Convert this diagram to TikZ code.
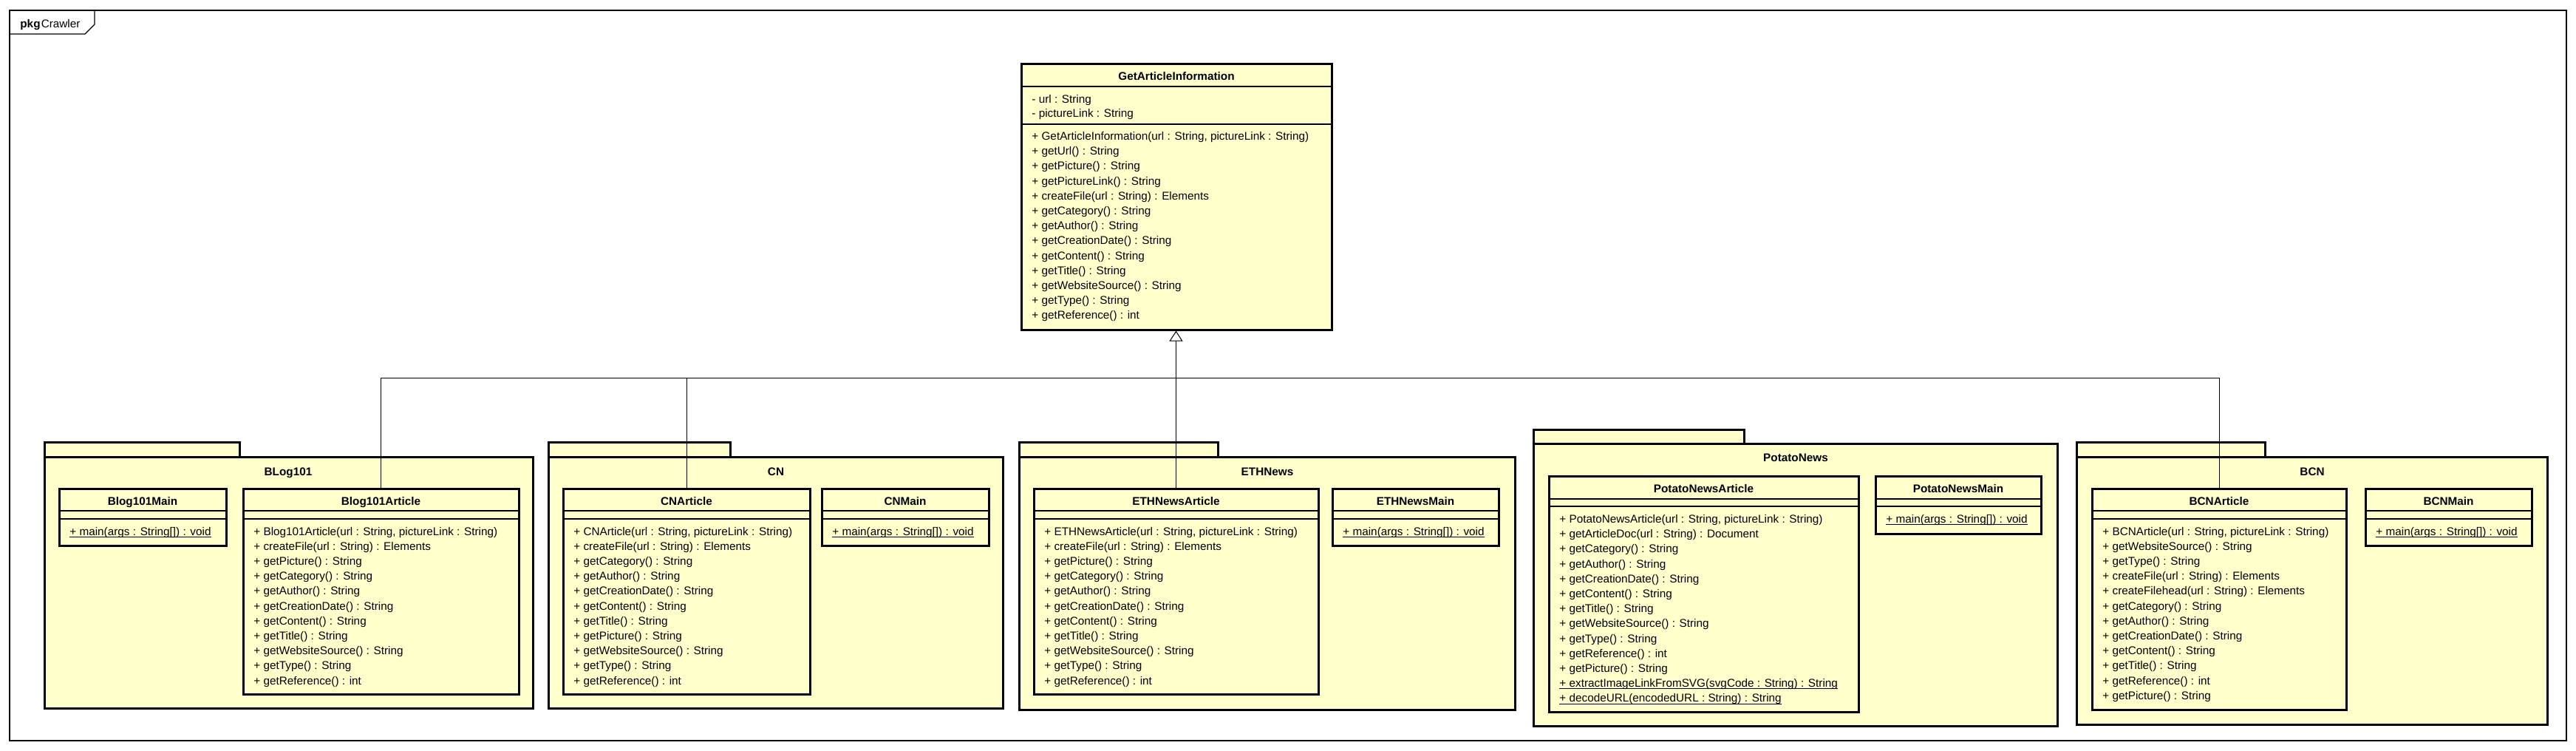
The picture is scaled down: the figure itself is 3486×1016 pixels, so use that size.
\documentclass[tikz,border=0pt]{standalone}
\usepackage{fontspec}
\setmainfont{Liberation Sans}
\usepackage{xcolor}
\usepackage{tikz}
\usetikzlibrary{positioning,arrows.meta,fit}
\definecolor{umlfill}{RGB}{255,255,204}
\newcommand\umlfont{\fontsize{7.65}{9}\selectfont}
\newcommand\statline[1]{{\setbox0\hbox{#1}\rlap{\rule[-1.3pt]{\wd0}{0.5pt}}\box0}}
\tikzset{
  pkgframe/.style={draw=black, line width=0.6pt},
  pkgtab/.style={draw=black, fill=umlfill, line width=1.5pt, inner sep=0pt},
  pkgbody/.style={draw=black, fill=umlfill, line width=1.5pt, inner sep=0pt},
  pkgname/.style={font=\umlfont\bfseries, anchor=base, inner sep=0pt},
  cls/.style={draw=black, fill=umlfill, line width=1.5pt, inner sep=0pt},
  ctitle/.style={font=\umlfont\bfseries, anchor=base, inner sep=0pt},
  mline/.style={anchor=base west, inner sep=0pt},
  divider/.style={line width=0.6pt},
  conn/.style={line width=0.5pt, draw=black},
  genline/.style={conn, -{Triangle[open, length=7pt, width=9pt]}},
}

\begin{document}
\begin{tikzpicture}[x=0.5pt,y=-0.5pt,font=\umlfont]
  \useasboundingbox (0,0) rectangle (3486,1016);
  \draw[pkgframe] (13,14) rectangle (3473,1002);
  \draw[pkgframe] (13,46) -- (115,46) -- (128,33) -- (128,14);
  \node[mline] (crawler) at (27,37.5) {\textbf{pkg}\kern0.6pt Crawler};

  \node[pkgtab, fit={(60,598) (324,618)}] (blogtab) {};
  \node[pkgbody, fit={(60,618) (721,958)}] (blog) {};
  \node[pkgname] (blog-n) at (390,643) {BLog101};
  \node[pkgtab, fit={(742,598) (988,618)}] (cntab) {};
  \node[pkgbody, fit={(742,618) (1357,958)}] (cn) {};
  \node[pkgname] (cn-n) at (1050,643) {CN};
  \node[pkgtab, fit={(1379,598) (1648,618)}] (ethtab) {};
  \node[pkgbody, fit={(1379,618) (2050,960)}] (eth) {};
  \node[pkgname] (eth-n) at (1715,643) {ETHNews};
  \node[pkgtab, fit={(2075,581) (2360,600)}] (pottab) {};
  \node[pkgbody, fit={(2075,600) (2784,982)}] (potato) {};
  \node[pkgname] (potato-n) at (2430,624) {PotatoNews};
  \node[pkgtab, fit={(2810,598) (3065,618)}] (bcntab) {};
  \node[pkgbody, fit={(2810,618) (3447,980)}] (bcn) {};
  \node[pkgname] (bcn-n) at (3129,643) {BCN};

  \node[cls, fit={(1382,87) (1802,446)}] (gai) {};
  \node[cls, fit={(80,661) (306,738)}] (blogmain) {};
  \node[cls, fit={(329,661) (702,939)}] (blogart) {};
  \node[cls, fit={(762,661) (1096,939)}] (cnart) {};
  \node[cls, fit={(1112,661) (1338,738)}] (cnmain) {};
  \node[cls, fit={(1399,661) (1784,939)}] (ethart) {};
  \node[cls, fit={(1803,661) (2028,738)}] (ethmain) {};
  \node[cls, fit={(2096,644) (2515,963)}] (potart) {};
  \node[cls, fit={(2538,644) (2762,722)}] (potmain) {};
  \node[cls, fit={(2831,661) (3175,960)}] (bcnart) {};
  \node[cls, fit={(3201,661) (3426,738)}] (bcnmain) {};

  \foreach \l/\r/\a/\b in {1382/1802/117/168, 80/306/691/702, 329/702/691/702,
      762/1096/691/702, 1112/1338/691/702, 1399/1784/691/702, 1803/2028/691/702,
      2096/2515/675/685, 2538/2762/675/685, 2831/3175/691/702, 3201/3426/691/702}
    \draw[divider] (\l,\a) -- (\r,\a) (\l,\b) -- (\r,\b);

  \node[ctitle] (gai-t) at (1592,108.5) {GetArticleInformation};
  \node[mline] (gai-a0) at (1396,140) {- url : String};
  \node[mline] (gai-a1) at (1396,159) {- pictureLink : String};
  \foreach \t [count=\i from 0] in {{+ GetArticleInformation(url : String, pictureLink : String)},
      {+ getUrl() : String}, {+ getPicture() : String}, {+ getPictureLink() : String},
      {+ createFile(url : String) : Elements}, {+ getCategory() : String},
      {+ getAuthor() : String}, {+ getCreationDate() : String}, {+ getContent() : String},
      {+ getTitle() : String}, {+ getWebsiteSource() : String}, {+ getType() : String},
      {+ getReference() : int}}
    \node[mline] (gai-m\i) at (1396,189.5+20.2*\i) {\t};

  \node[ctitle] (blogmain-t) at (193,683) {Blog101Main};
  \node[mline] (blogmain-m0) at (94,724) {\statline{+ main(args : String[]) : void}};
  \node[ctitle] (blogart-t) at (515.5,683) {Blog101Article};
  \foreach \t [count=\i from 0] in {{+ Blog101Article(url : String, pictureLink : String)},
      {+ createFile(url : String) : Elements}, {+ getPicture() : String},
      {+ getCategory() : String}, {+ getAuthor() : String}, {+ getCreationDate() : String},
      {+ getContent() : String}, {+ getTitle() : String}, {+ getWebsiteSource() : String},
      {+ getType() : String}, {+ getReference() : int}}
    \node[mline] (blogart-m\i) at (343,724+20.2*\i) {\t};

  \node[ctitle] (cnart-t) at (929,683) {CNArticle};
  \foreach \t [count=\i from 0] in {{+ CNArticle(url : String, pictureLink : String)},
      {+ createFile(url : String) : Elements}, {+ getCategory() : String},
      {+ getAuthor() : String}, {+ getCreationDate() : String}, {+ getContent() : String},
      {+ getTitle() : String}, {+ getPicture() : String}, {+ getWebsiteSource() : String},
      {+ getType() : String}, {+ getReference() : int}}
    \node[mline] (cnart-m\i) at (776,724+20.2*\i) {\t};
  \node[ctitle] (cnmain-t) at (1225,683) {CNMain};
  \node[mline] (cnmain-m0) at (1126,724) {\statline{+ main(args : String[]) : void}};

  \node[ctitle] (ethart-t) at (1591.5,683) {ETHNewsArticle};
  \foreach \t [count=\i from 0] in {{+ ETHNewsArticle(url : String, pictureLink : String)},
      {+ createFile(url : String) : Elements}, {+ getPicture() : String},
      {+ getCategory() : String}, {+ getAuthor() : String}, {+ getCreationDate() : String},
      {+ getContent() : String}, {+ getTitle() : String}, {+ getWebsiteSource() : String},
      {+ getType() : String}, {+ getReference() : int}}
    \node[mline] (ethart-m\i) at (1413,724+20.2*\i) {\t};
  \node[ctitle] (ethmain-t) at (1915.5,683) {ETHNewsMain};
  \node[mline] (ethmain-m0) at (1817,724) {\statline{+ main(args : String[]) : void}};

  \node[ctitle] (potart-t) at (2305.5,666) {PotatoNewsArticle};
  \foreach \t [count=\i from 0] in {{+ PotatoNewsArticle(url : String, pictureLink : String)},
      {+ getArticleDoc(url : String) : Document}, {+ getCategory() : String},
      {+ getAuthor() : String}, {+ getCreationDate() : String}, {+ getContent() : String},
      {+ getTitle() : String}, {+ getWebsiteSource() : String}, {+ getType() : String},
      {+ getReference() : int}, {+ getPicture() : String},
      {\statline{+ extractImageLinkFromSVG(svgCode : String) : String}},
      {\statline{+ decodeURL(encodedURL : String) : String}}}
    \node[mline] (potart-m\i) at (2110,707.5+20.2*\i) {\t};
  \node[ctitle] (potmain-t) at (2650,666) {PotatoNewsMain};
  \node[mline] (potmain-m0) at (2552,707.5) {\statline{+ main(args : String[]) : void}};

  \node[ctitle] (bcnart-t) at (3003,683) {BCNArticle};
  \foreach \t [count=\i from 0] in {{+ BCNArticle(url : String, pictureLink : String)},
      {+ getWebsiteSource() : String}, {+ getType() : String},
      {+ createFile(url : String) : Elements}, {+ createFilehead(url : String) : Elements},
      {+ getCategory() : String}, {+ getAuthor() : String}, {+ getCreationDate() : String},
      {+ getContent() : String}, {+ getTitle() : String}, {+ getReference() : int},
      {+ getPicture() : String}}
    \node[mline] (bcnart-m\i) at (2845,724+20.2*\i) {\t};
  \node[ctitle] (bcnmain-t) at (3313.5,683) {BCNMain};
  \node[mline] (bcnmain-m0) at (3215,724) {\statline{+ main(args : String[]) : void}};

  \coordinate (bus) at (1592,511);
  \draw[conn] (blogart.north) |- (bus);
  \draw[conn] (cnart.north) |- (bus);
  \draw[conn] (bcnart.north) |- (bus);
  \draw[genline] (ethart.north) -- (ethart.north |- gai.south);
\end{tikzpicture}
\end{document}
